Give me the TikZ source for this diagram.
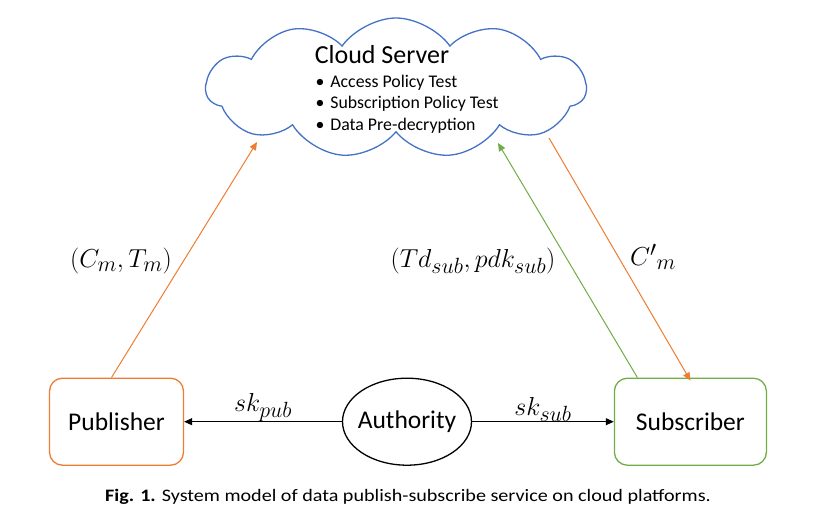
\RequirePackage{fix-cm}
\documentclass[tikz,border=0pt]{standalone}
\usepackage{fontspec}
\setmainfont{Carlito}
\newfontfamily\capfont[FakeStretch=1.15]{Carlito}
\usetikzlibrary{shapes.symbols,shapes.geometric,arrows.meta}
\DeclareMathSizes{26}{26}{22}{16}

\definecolor{cloudblue}{RGB}{68,114,196}
\definecolor{puborange}{RGB}{237,125,49}
\definecolor{subgreen}{RGB}{112,173,71}

\tikzset{
  party/.style={draw, rounded corners=13pt, line width=1.3pt,
    minimum height=87pt, font=\fontsize{25.5}{30}\selectfont},
  flow/.style={line width=1pt, -{Triangle[length=8pt,width=7pt]}},
  lbl/.style={font=\fontsize{26}{30}\selectfont},
}

\begin{document}
\begin{tikzpicture}[x=1pt,y=-1pt]
   \useasboundingbox (0,0) rectangle (816,526);

   \node[cloud, cloud puffs=11, cloud puff arc=110, cloud ignores aspect,
         draw=cloudblue, line width=1.3pt,
         minimum width=380pt, minimum height=140pt] (cloud) at (396,88) {};
   \node[font=\fontsize{26}{30}\selectfont] (title) at (382,55) {Cloud Server};
   \node[anchor=west, font=\fontsize{17.8}{21.7}\selectfont, align=left]
        (tasks) at (312,104)
        {•\hspace{6pt}Access Policy Test\\
         •\hspace{6pt}Subscription Policy Test\\
         •\hspace{6pt}Data Pre-decryption};

   \node[party, draw=puborange, minimum width=134pt] (pub) at (116.5,421.7) {Publisher};
   \node[party, draw=subgreen, minimum width=152pt] (sub) at (690.4,421.7) {Subscriber};
   \node[ellipse, draw, line width=1.3pt, inner sep=0pt,
         minimum width=129pt, minimum height=87pt,
         font=\fontsize{25.5}{30}\selectfont] (auth) at (407,421.7)
         {\makebox[0pt]{Authority}};

   % where the flows meet the cloud
   \coordinate (pubin) at (257,142);
   \coordinate (subin) at (498,143);
   \coordinate (subout) at (549,138);

   \node[lbl] (cmtm) at (121,261) {$(C_m,T_m)$};
   \node[lbl] (tdpdk) at (473,261) {$(Td_{sub},pdk_{sub})$};
   \node[lbl] (cpm) at (653,257) {${C'}_m$};

   \draw[flow, puborange] ([xshift=-5pt]pub.north) -- (pubin);
   \draw[flow, subgreen] ([xshift=-53pt]sub.north) -- (subin);
   \draw[flow, puborange] (subout) -- ([yshift=-3pt]sub.north);

   \draw[flow] (auth.west) -- (pub.east)
      node[midway, above=-4pt, lbl] (skpub) {$sk_{pub}$};
   \draw[flow] (auth.east) -- (sub.west)
      node[midway, above=-4pt, lbl] (sksub) {$sk_{sub}$};

   \node[font=\capfont\fontsize{17.5}{20}\selectfont] (caption) at (408,497)
      {\textbf{Fig. 1.}\hspace{6pt}System model of data publish-subscribe service on cloud platforms.};

\end{tikzpicture}
\end{document}
